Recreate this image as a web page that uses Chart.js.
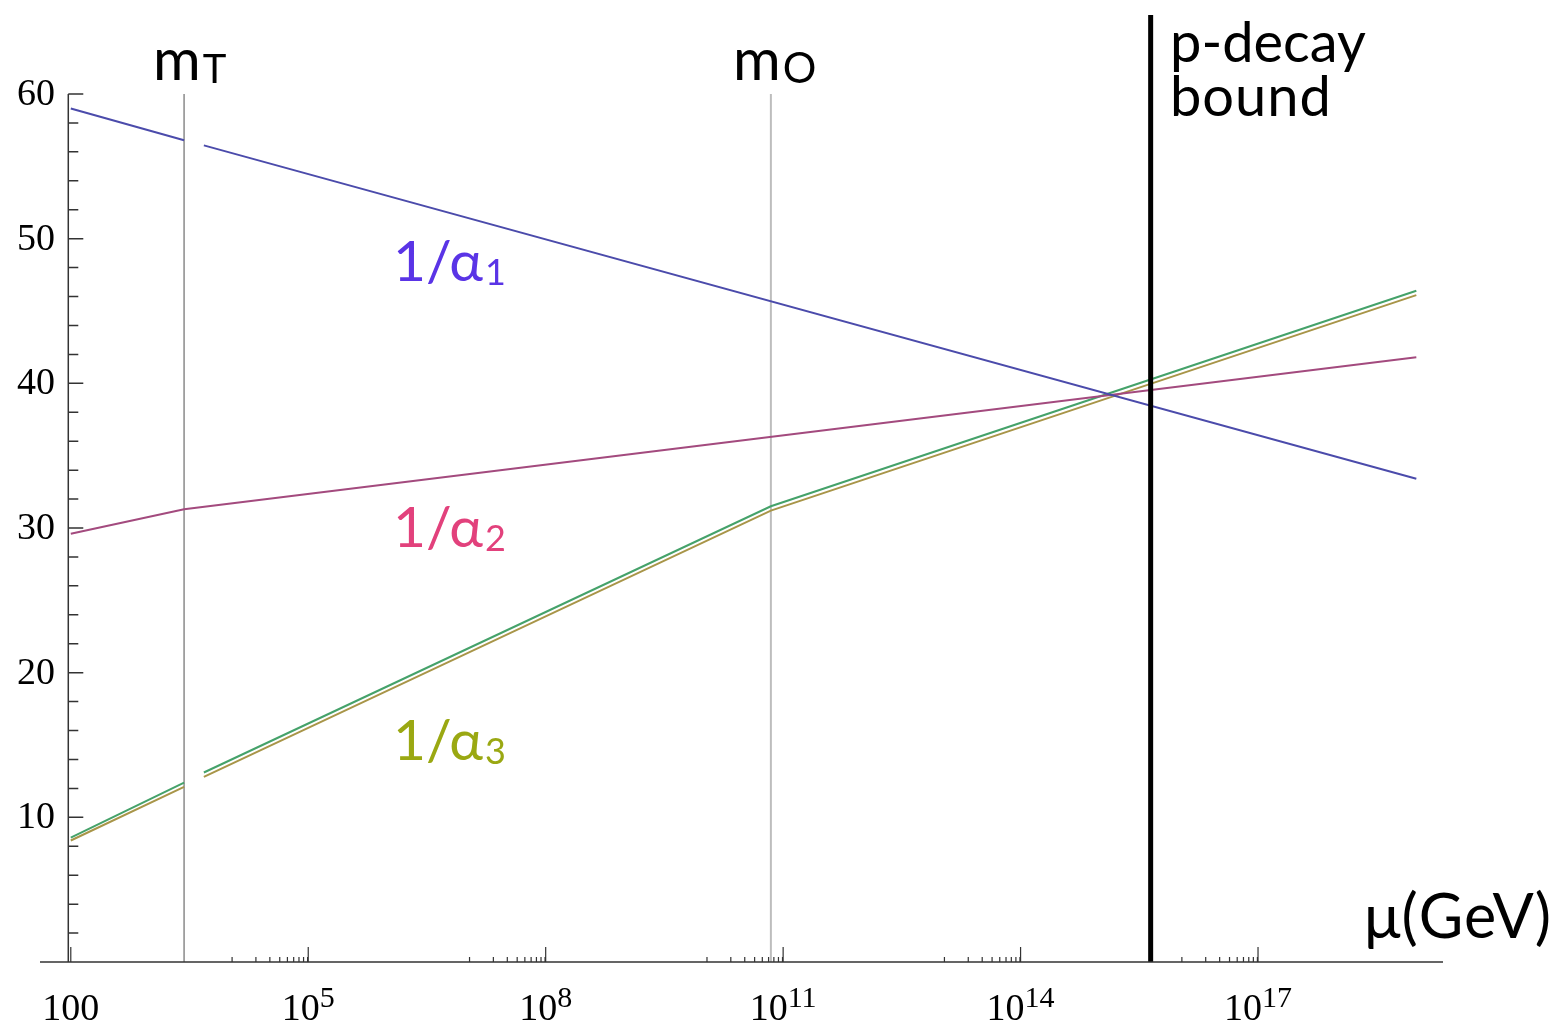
<!DOCTYPE html>
<html>
<head>
<meta charset="utf-8">
<script src="https://cdn.jsdelivr.net/npm/chart.js@4.4.0/dist/chart.umd.min.js"></script>
<style>
    html, body { margin: 0; padding: 0; background: #fff; }
    #wrap { width: 1559px; height: 1025px; }
</style>
</head>
<body>
<div id="wrap"><canvas id="myChart"></canvas></div>
<script>
/* Running couplings, 1/alpha_i against the scale mu (GeV) */

// x positions (GeV) of each curve's points, null value = break in the curve
const muAlpha1 = [1e2, 2.7e3, 3.6e3, 4.8e3, 1e19];
const invAlpha1 = [59.0, 56.8, null, 56.45, 33.4];

const muAlpha2 = [1e2, 2.7e3, 1e19];
const invAlpha2 = [29.6, 31.3, 41.8];

const muAlpha3 = [1e2, 2.7e3, 3.6e3, 4.8e3, 7e10, 1e19];
const invAlpha3a = [8.6, 12.4, null, 13.1, 31.5, 46.4];
const invAlpha3b = [8.4, 12.1, null, 12.8, 31.2, 46.1];

// vertical markers: m_T, m_O, proton decay bound
const markerMu = [2.7e3, 7e10, 4.4e15];

// axis ticks
const yTicks = [10, 20, 30, 40, 50, 60];
const yMinorStep = 2;
const xMajorExp = [2, 5, 8, 11, 14, 17];

const toPoints = (xs, ys) => xs.map((v, i) => ({ x: v, y: ys[i] }));

const serif = '"Liberation Serif", "Times New Roman", serif';
const sans = 'Lato, "Open Sans", sans-serif';

// draw text with a small subscript after it
function drawSubText(ctx, main, sub, x, base, size, subSize, subDrop, color) {
    ctx.fillStyle = color;
    ctx.textAlign = 'left';
    ctx.textBaseline = 'alphabetic';
    ctx.font = `${size}px ${sans}`;
    ctx.fillText(main, x, base);
    const w = ctx.measureText(main).width;
    ctx.font = `${subSize}px ${sans}`;
    ctx.fillText(sub, x + w + 2, base + subDrop);
}

const decorations = {
    id: 'decorations',
    beforeDatasetsDraw(chart) {
        const { ctx, scales: { x, y } } = chart;
        const top = y.getPixelForValue(60);
        const bottom = y.getPixelForValue(0);
        ctx.save();
        // m_T
        let px = x.getPixelForValue(markerMu[0]);
        ctx.strokeStyle = '#8a8a8a';
        ctx.lineWidth = 1.5;
        ctx.beginPath();
        ctx.moveTo(px, top);
        ctx.lineTo(px, bottom);
        ctx.stroke();
        // m_O
        px = x.getPixelForValue(markerMu[1]);
        ctx.strokeStyle = '#bdbdbd';
        ctx.lineWidth = 2;
        ctx.beginPath();
        ctx.moveTo(px, top);
        ctx.lineTo(px, bottom);
        ctx.stroke();
        ctx.restore();
    },
    afterDatasetsDraw(chart) {
        const { ctx, chartArea, scales: { x, y } } = chart;
        const y0 = y.getPixelForValue(0);
        const xAxisPx = x.getPixelForValue(1e2) - 2.5;
        ctx.save();

        // p-decay bound
        const pb = x.getPixelForValue(markerMu[2]);
        ctx.strokeStyle = '#000';
        ctx.lineWidth = 5;
        ctx.beginPath();
        ctx.moveTo(pb, 15);
        ctx.lineTo(pb, y0);
        ctx.stroke();

        // axes lines
        ctx.strokeStyle = '#333';
        ctx.lineWidth = 1.5;
        ctx.beginPath();
        ctx.moveTo(chartArea.left, y0);
        ctx.lineTo(chartArea.right, y0);
        ctx.moveTo(xAxisPx, y.getPixelForValue(60));
        ctx.lineTo(xAxisPx, y0);
        ctx.stroke();

        // y ticks
        ctx.beginPath();
        for (let v = yMinorStep; v <= 60; v += yMinorStep) {
            const py = y.getPixelForValue(v);
            const len = yTicks.includes(v) ? 15 : 10;
            ctx.moveTo(xAxisPx, py);
            ctx.lineTo(xAxisPx + len, py);
        }
        ctx.stroke();

        ctx.fillStyle = '#000';
        ctx.font = `38px ${serif}`;
        ctx.textAlign = 'right';
        ctx.textBaseline = 'middle';
        yTicks.forEach((v) => {
            ctx.fillText(String(v), 55, y.getPixelForValue(v) + 1);
        });

        // x ticks: major ones plus the decade below each (k * 10^(n-1))
        ctx.lineWidth = 1.2;
        ctx.beginPath();
        xMajorExp.forEach((n) => {
            const px = x.getPixelForValue(Math.pow(10, n));
            ctx.moveTo(px, y0);
            ctx.lineTo(px, y0 - 15);
            if (n > 2) {
                for (let k = 1; k <= 9; k++) {
                    const mp = x.getPixelForValue(k * Math.pow(10, n - 1)) + 3;
                    ctx.moveTo(mp, y0);
                    ctx.lineTo(mp, y0 - 5);
                }
            }
        });
        ctx.stroke();

        // x tick labels
        ctx.textBaseline = 'alphabetic';
        ctx.textAlign = 'left';
        xMajorExp.forEach((n) => {
            const cx = x.getPixelForValue(Math.pow(10, n));
            ctx.font = `38px ${serif}`;
            if (n === 2) {
                const w = ctx.measureText('100').width;
                ctx.fillText('100', cx - w / 2, 1020);
                return;
            }
            const wb = ctx.measureText('10').width;
            ctx.font = `30px ${serif}`;
            const we = ctx.measureText(String(n)).width;
            const start = cx - (wb + we) / 2;
            ctx.font = `38px ${serif}`;
            ctx.fillText('10', start, 1020);
            ctx.font = `30px ${serif}`;
            ctx.fillText(String(n), start + wb, 1007);
        });

        // marker labels
        drawSubText(ctx, 'm', 'T', 153, 80, 58, 40, 3, '#000');
        drawSubText(ctx, 'm', 'O', 733, 80, 58, 42, 3, '#000');

        ctx.fillStyle = '#000';
        ctx.font = `56px ${sans}`;
        ctx.textAlign = 'left';
        ctx.fillText('p-decay', 1170, 62);
        ctx.letterSpacing = '1px';
        ctx.fillText('bound', 1170, 116);
        ctx.font = `61px ${sans}`;
        ctx.letterSpacing = '1px';
        ctx.fillText('μ(GeV)', 1364, 938);
        ctx.letterSpacing = '0px';

        // curve labels
        drawSubText(ctx, '1/α', '1', 393, 281, 57, 36, 4, '#5a34e6');
        drawSubText(ctx, '1/α', '2', 393, 547, 57, 36, 4, '#e2417c');
        drawSubText(ctx, '1/α', '3', 393, 760, 57, 36, 4, '#9aa812');

        ctx.restore();
    }
};

const ctx = document.getElementById('myChart').getContext('2d');
const lineStyle = { fill: false, pointRadius: 0, borderWidth: 2, spanGaps: false, tension: 0 };

const chart = new Chart(ctx, {
    type: 'line',
    data: {
        datasets: [
            { label: '1/alpha1', data: toPoints(muAlpha1, invAlpha1), borderColor: '#4b4bab', ...lineStyle },
            { label: '1/alpha2', data: toPoints(muAlpha2, invAlpha2), borderColor: '#a34a7e', ...lineStyle },
            { label: '1/alpha3', data: toPoints(muAlpha3, invAlpha3a), borderColor: '#45a26a', ...lineStyle },
            { label: '1/alpha3 (2)', data: toPoints(muAlpha3, invAlpha3b), borderColor: '#a89548', ...lineStyle }
        ]
    },
    options: {
        responsive: true,
        maintainAspectRatio: false,
        animation: false,
        layout: { padding: { left: 40, right: 116, top: 94, bottom: 63 } },
        plugins: { legend: { display: false }, tooltip: { enabled: false } },
        scales: {
            x: { type: 'logarithmic', min: Math.pow(10, 1.611), max: Math.pow(10, 19.337), display: false },
            y: { type: 'linear', min: 0, max: 60, display: false }
        }
    },
    plugins: [decorations]
});
</script>
</body>
</html>
